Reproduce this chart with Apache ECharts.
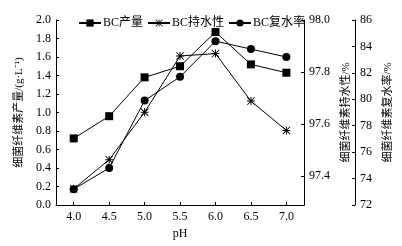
<!DOCTYPE html>
<html><head><meta charset="utf-8">
<script src="https://cdn.jsdelivr.net/npm/echarts@6/dist/echarts.min.js"></script>
<style>html,body{margin:0;padding:0;background:#fff}#c{width:402px;height:246px}</style>
</head><body><div id="c"></div>
<script>
const categories = ['4.0','4.5','5.0','5.5','6.0','6.5','7.0'];
const yieldVals = [0.72, 0.96, 1.38, 1.50, 1.87, 1.52, 1.43];
const holdingVals = [97.352, 97.464, 97.646, 97.862, 97.871, 97.689, 97.576];
const rehydrationVals = [73.2, 74.8, 79.9, 81.7, 84.4, 83.8, 83.2];
const leftTicks = [0.0, 2.0, 0.2];
const holdingTickLabels = [97.4, 97.6, 97.8, 98.0];
const rehydTicks = [72, 86, 2];
const seriesNames = ['BC产量','BC持水性','BC复水率'];
const axisNames = ['细菌纤维素产量/(g·L⁻¹)','细菌纤维素持水性/%','细菌纤维素复水率/%','pH'];

const FONT = "'Liberation Serif','Times New Roman','Noto Sans CJK SC',serif";
const black = '#000';
const asterisk = 'path://M4.4 0L5.6 0L5.6 10L4.4 10Z M0 4.4L10 4.4L10 5.6L0 5.6Z M0.8 0L10 9.2L9.2 10L0 0.8Z M9.2 0L10 0.8L0.8 10L0 9.2Z';
const axisLine = {show:true, lineStyle:{color:black, width:1}};
const lbl = {color:black, fontFamily:FONT, fontSize:12};
const nameStyle = {color:black, fontFamily:FONT, fontSize:11};

const chart = echarts.init(document.getElementById('c'), null, {renderer:'canvas'});
chart.setOption({
  animation:false,
  backgroundColor:'#fff',
  textStyle:{fontFamily:FONT, color:black},
  legend:{
    left:73, top:12, itemWidth:22, itemHeight:9, itemGap:4,
    textStyle:{color:black, fontFamily:FONT, fontSize:12, padding:[0,0,0,-3]},
    data:seriesNames
  },
  grid:{left:56, right:96, top:20, bottom:41},
  xAxis:{
    type:'category', data:categories, boundaryGap:true,
    axisLine:axisLine,
    axisTick:{show:true, alignWithLabel:true, inside:true, length:3, lineStyle:{color:black}},
    axisLabel:Object.assign({margin:6}, lbl),
    name:axisNames[3], nameLocation:'middle', nameGap:22,
    nameTextStyle:lbl, splitLine:{show:false}
  },
  yAxis:[
    {
      type:'value', position:'left', min:leftTicks[0], max:leftTicks[1], interval:leftTicks[2],
      axisLine:axisLine,
      axisTick:{show:true, inside:true, length:3, lineStyle:{color:black}},
      axisLabel:Object.assign({margin:5, formatter:v=>v.toFixed(1)}, lbl),
      splitLine:{show:false},
      name:axisNames[0], nameLocation:'middle', nameRotate:90, nameGap:26,
      nameTextStyle:nameStyle
    },
    {
      type:'value', position:'right', min:97.29, max:98.0,
      axisLine:axisLine,
      axisTick:{show:true, inside:true, length:3, lineStyle:{color:black}, customValues:holdingTickLabels},
      axisLabel:Object.assign({margin:5, formatter:v=>v.toFixed(1), customValues:holdingTickLabels}, lbl),
      splitLine:{show:false},
      name:axisNames[1], nameLocation:'middle', nameRotate:90, nameGap:25,
      nameTextStyle:nameStyle
    },
    {
      type:'value', position:'right', offset:51, min:rehydTicks[0], max:rehydTicks[1], interval:rehydTicks[2],
      axisLine:axisLine,
      axisTick:{show:true, inside:true, length:3, lineStyle:{color:black}},
      axisLabel:Object.assign({margin:5}, lbl),
      splitLine:{show:false},
      name:axisNames[2], nameLocation:'middle', nameRotate:90, nameGap:21,
      nameTextStyle:nameStyle
    }
  ],
  series:[
    {name:seriesNames[0], type:'line', yAxisIndex:0, data:yieldVals, symbol:'rect', symbolSize:8,
     lineStyle:{color:black, width:1}, itemStyle:{color:black}},
    {name:seriesNames[1], type:'line', yAxisIndex:1, data:holdingVals, symbol:asterisk, symbolSize:8,
     lineStyle:{color:black, width:1}, itemStyle:{color:black}},
    {name:seriesNames[2], type:'line', yAxisIndex:2, data:rehydrationVals, symbol:'circle', symbolSize:8,
     lineStyle:{color:black, width:1}, itemStyle:{color:black}}
  ]
});
</script></body></html>
